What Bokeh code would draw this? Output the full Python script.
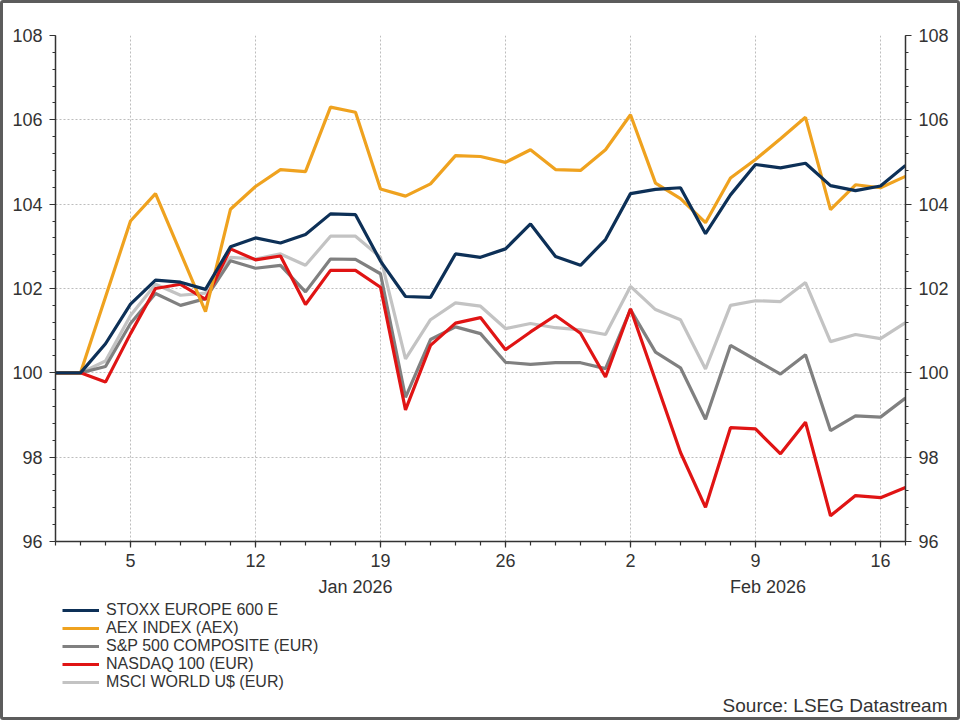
import pandas as pd
from bokeh.plotting import figure
from bokeh.layouts import column
from bokeh.models import (ColumnDataSource, FixedTicker, LinearAxis, Range1d,
                          Legend, LegendItem, Title, Grid)
from bokeh.embed import file_html
from bokeh.resources import INLINE

# ---------------- data ----------------
dates = ["2025-12-31", "2026-01-01", "2026-01-02",
         "2026-01-05", "2026-01-06", "2026-01-07", "2026-01-08", "2026-01-09",
         "2026-01-12", "2026-01-13", "2026-01-14", "2026-01-15", "2026-01-16",
         "2026-01-19", "2026-01-20", "2026-01-21", "2026-01-22", "2026-01-23",
         "2026-01-26", "2026-01-27", "2026-01-28", "2026-01-29", "2026-01-30",
         "2026-02-02", "2026-02-03", "2026-02-04", "2026-02-05", "2026-02-06",
         "2026-02-09", "2026-02-10", "2026-02-11", "2026-02-12", "2026-02-13",
         "2026-02-16", "2026-02-17"]

stoxx = [100, 100, 100.69, 101.63, 102.20, 102.15, 101.98, 102.99, 103.20, 103.08,
         103.28, 103.77, 103.75, 102.65, 101.81, 101.79, 102.82, 102.74, 102.94, 103.53,
         102.76, 102.55, 103.16, 104.25, 104.35, 104.39, 103.30, 104.22, 104.94, 104.86,
         104.97, 104.44, 104.32, 104.43, 104.92]
aex = [100, 100, 101.80, 103.60, 104.25, 102.85, 101.45, 103.88, 104.42, 104.82,
       104.77, 106.30, 106.18, 104.36, 104.19, 104.48, 105.15, 105.13, 104.99, 105.29,
       104.82, 104.80, 105.29, 106.12, 104.50, 104.13, 103.56, 104.62, 105.06, 105.55,
       106.06, 103.87, 104.46, 104.39, 104.66]
sp500 = [100, 100, 100.15, 101.17, 101.88, 101.60, 101.76, 102.66, 102.48, 102.55,
         101.92, 102.70, 102.69, 102.35, 99.42, 100.79, 101.09, 100.93, 100.25, 100.20,
         100.24, 100.24, 100.10, 101.50, 100.49, 100.12, 98.90, 100.65, 100.31, 99.97,
         100.43, 98.63, 98.98, 98.95, 99.40]
nasdaq = [100, 100, 99.78, 100.93, 102.00, 102.10, 101.74, 102.94, 102.68, 102.77,
          101.62, 102.43, 102.43, 102.03, 99.12, 100.65, 101.18, 101.31, 100.55, 100.97,
          101.36, 100.94, 99.90, 101.52, 99.82, 98.11, 96.81, 98.70, 98.67, 98.08,
          98.83, 96.61, 97.09, 97.04, 97.28]
msci = [100, 100, 100.28, 101.36, 102.10, 101.84, 101.89, 102.74, 102.70, 102.82,
        102.55, 103.24, 103.24, 102.74, 100.33, 101.26, 101.66, 101.58, 101.05, 101.17,
        101.07, 101.02, 100.91, 102.05, 101.50, 101.26, 100.09, 101.60, 101.71, 101.69,
        102.14, 100.74, 100.91, 100.81, 101.19]

series_names = ["STOXX EUROPE 600 E", "AEX INDEX (AEX)", "S&P 500 COMPOSITE (EUR)",
                "NASDAQ 100 (EUR)", "MSCI WORLD U$ (EUR)"]
series_colors = ["#0d3057", "#efa21f", "#808080", "#e01414", "#c3c3c3"]

month_labels = ["Jan 2026", "Feb 2026"]
month_label_pos = [12, 28.5]
y_ticks = [96, 98, 100, 102, 104, 106, 108]
source_text = "Source: LSEG Datastream"

# ---------------- setup ----------------
FONT = "Liberation Sans"
TXT = "#333333"
x = list(range(len(dates)))
ts = [pd.Timestamp(d) for d in dates]
mondays = [i for i, t in enumerate(ts) if t.dayofweek == 0]
monday_labels = {i: str(ts[i].day) for i in mondays}
cols = ["stoxx", "aex", "sp500", "nasdaq", "msci"]

src = ColumnDataSource(dict(x=x, stoxx=stoxx, aex=aex, sp500=sp500, nasdaq=nasdaq, msci=msci))

W = 954
H1 = 596
H2 = 118

p = figure(width=W, height=H1,
           min_border_left=52, min_border_right=52, min_border_top=32, min_border_bottom=58,
           x_range=Range1d(0, len(dates) - 1), y_range=Range1d(96, 108),
           x_axis_type=None, y_axis_type=None,
           output_backend="svg", toolbar_location=None)
p.outline_line_color = None
p.background_fill_color = "white"
p.border_fill_color = "white"

yticker = FixedTicker(ticks=y_ticks, minor_ticks=[round(96 + 0.4 * k, 2) for k in range(31)])
xticker = FixedTicker(ticks=mondays, minor_ticks=x)


def style_axis(ax):
    ax.axis_line_color = TXT
    ax.axis_line_width = 1.5
    ax.major_tick_line_color = TXT
    ax.major_tick_line_width = 1.2
    ax.minor_tick_line_color = TXT
    ax.minor_tick_line_width = 1.2
    ax.major_tick_in = 0
    ax.major_tick_out = 6
    ax.minor_tick_in = 0
    ax.minor_tick_out = 3
    ax.major_label_text_font = FONT
    ax.major_label_text_font_size = "18px"
    ax.major_label_text_color = TXT


for side in ("left", "right"):
    ax = LinearAxis(ticker=yticker)
    style_axis(ax)
    ax.major_label_standoff = 7
    p.add_layout(ax, side)

xax = LinearAxis(ticker=xticker, major_label_overrides=monday_labels)
style_axis(xax)
xax.minor_tick_out = 4
xax.major_label_standoff = 6
p.add_layout(xax, "below")

max_ = LinearAxis(ticker=FixedTicker(ticks=month_label_pos),
                  major_label_overrides=dict(zip(month_label_pos, month_labels)))
max_.axis_line_color = None
max_.major_tick_line_color = None
max_.minor_tick_line_color = None
max_.major_tick_out = 0
max_.major_label_standoff = 7
max_.major_label_text_font = FONT
max_.major_label_text_font_size = "18px"
max_.major_label_text_color = TXT
p.add_layout(max_, "below")

for dim, tk in ((0, FixedTicker(ticks=mondays)), (1, FixedTicker(ticks=y_ticks))):
    g = Grid(dimension=dim, ticker=tk)
    g.grid_line_color = "#bdbdbd"
    g.grid_line_dash = "2 2"
    g.grid_line_width = 1
    p.add_layout(g)

for idx in [4, 2, 3, 1, 0]:
    p.line("x", cols[idx], source=src, line_color=series_colors[idx], line_width=3.2)

# ---- lower strip: legend + source (the series lie outside this strip's ranges) ----
q = figure(width=W, height=H2, min_border_top=0, min_border_bottom=26,
           x_range=Range1d(0, 1), y_range=Range1d(0, 1),
           x_axis_type=None, y_axis_type=None,
           output_backend="svg", toolbar_location=None)
q.outline_line_color = None
q.grid.visible = False
q.background_fill_color = "white"
q.border_fill_color = "white"

leg_r = {}
for idx in range(5):
    leg_r[idx] = q.line("x", cols[idx], source=src, line_color=series_colors[idx], line_width=3.2)

legend = Legend(items=[LegendItem(label=series_names[i], renderers=[leg_r[i]]) for i in range(5)],
                location=(7, 0), orientation="vertical")
legend.glyph_width = 37
legend.glyph_height = 18
legend.label_height = 18
legend.spacing = 0
legend.padding = 0
legend.margin = 0
legend.label_standoff = 7
legend.label_text_font = FONT
legend.label_text_font_size = "16px"
legend.label_text_color = TXT
legend.border_line_color = None
legend.background_fill_alpha = 0
q.add_layout(legend)

q.add_layout(Title(text=source_text, align="right", offset=-42, standoff=3,
                   vertical_align="bottom", text_font=FONT, text_font_size="19px",
                   text_font_style="normal", text_color=TXT), "below")

layout = column(p, q, spacing=0,
                styles={"border": "3px solid #5c5c5c", "border-radius": "3px"})

open("out.html", "w").write(file_html(layout, INLINE))
